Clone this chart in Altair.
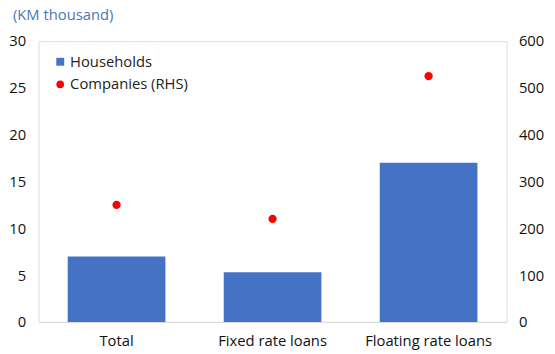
import altair as alt
import pandas as pd

categories = ["Total", "Fixed rate loans", "Floating rate loans"]
households = [7.0, 5.3, 17.0]
companies = [250, 220, 525]
left_ticks = [0, 5, 10, 15, 20, 25, 30]
right_ticks = [0, 100, 200, 300, 400, 500, 600]
legend_labels = ["Households", "Companies (RHS)"]
unit_label = "(KM thousand)"

FONT = "Open Sans"
BAR = "#4472C4"
DOT = "#FF0000"
FS = 15

df = pd.DataFrame({"cat": categories, "hh": households, "co": companies})

xenc = alt.X("cat:N", sort=categories, title=None,
             scale=alt.Scale(paddingInner=0.374, paddingOuter=0.187),
             axis=alt.Axis(labelAngle=0, labelFont=FONT, labelFontSize=FS,
                           labelColor="#111", labelPadding=12, ticks=False,
                           domain=True, domainColor="#d9d9d9"))

bars = alt.Chart(df).mark_bar(color=BAR).encode(
    x=xenc,
    y=alt.Y("hh:Q", title=None,
            scale=alt.Scale(domain=[0, 30], nice=False),
            axis=alt.Axis(values=left_ticks, orient="left", grid=False,
                          domain=False, ticks=False, labelPadding=13,
                          labelFont=FONT, labelFontSize=FS, labelColor="#111")),
)

points = alt.Chart(df).mark_circle(color=DOT, size=70, opacity=1).encode(
    x=alt.X("cat:N", sort=categories),
    y=alt.Y("co:Q", title=None,
            scale=alt.Scale(domain=[0, 600], nice=False),
            axis=alt.Axis(values=right_ticks, orient="right", grid=False,
                          domain=False, ticks=False, labelPadding=12,
                          labelFont=FONT, labelFontSize=FS, labelColor="#111")),
)

leg = pd.DataFrame({"lab": legend_labels})

leg_sq = alt.Chart(leg).transform_filter(alt.datum.lab == legend_labels[0]).mark_square(
    color=BAR, size=64, opacity=1).encode(x=alt.value(22), y=alt.value(21))
leg_dot = alt.Chart(leg).transform_filter(alt.datum.lab == legend_labels[1]).mark_circle(
    color=DOT, size=60, opacity=1).encode(x=alt.value(22), y=alt.value(44))
leg_t1 = alt.Chart(leg).transform_filter(alt.datum.lab == legend_labels[0]).mark_text(
    align="left", baseline="middle", font=FONT, fontSize=FS, color="#222").encode(
    x=alt.value(32), y=alt.value(21), text="lab:N")
leg_t2 = alt.Chart(leg).transform_filter(alt.datum.lab == legend_labels[1]).mark_text(
    align="left", baseline="middle", font=FONT, fontSize=FS, color="#222").encode(
    x=alt.value(32), y=alt.value(44), text="lab:N")

unit = alt.Chart(pd.DataFrame({"t": [unit_label]})).mark_text(
    align="left", baseline="middle", font=FONT, fontSize=FS, color="#4A78B5").encode(
    x=alt.value(-26), y=alt.value(-26), text="t:N")

chart = alt.layer(bars, points, leg_sq, leg_dot, leg_t1, leg_t2, unit).resolve_scale(
    y="independent").properties(
    width=475, height=285,
    autosize=alt.AutoSizeParams(type="none"),
    padding={"left": 31, "top": 31, "right": 41, "bottom": 30},
).configure_view(stroke="#d9d9d9", strokeWidth=1).configure(background="white")

chart.save("out.html", embed_options={"renderer": "svg", "actions": False})
